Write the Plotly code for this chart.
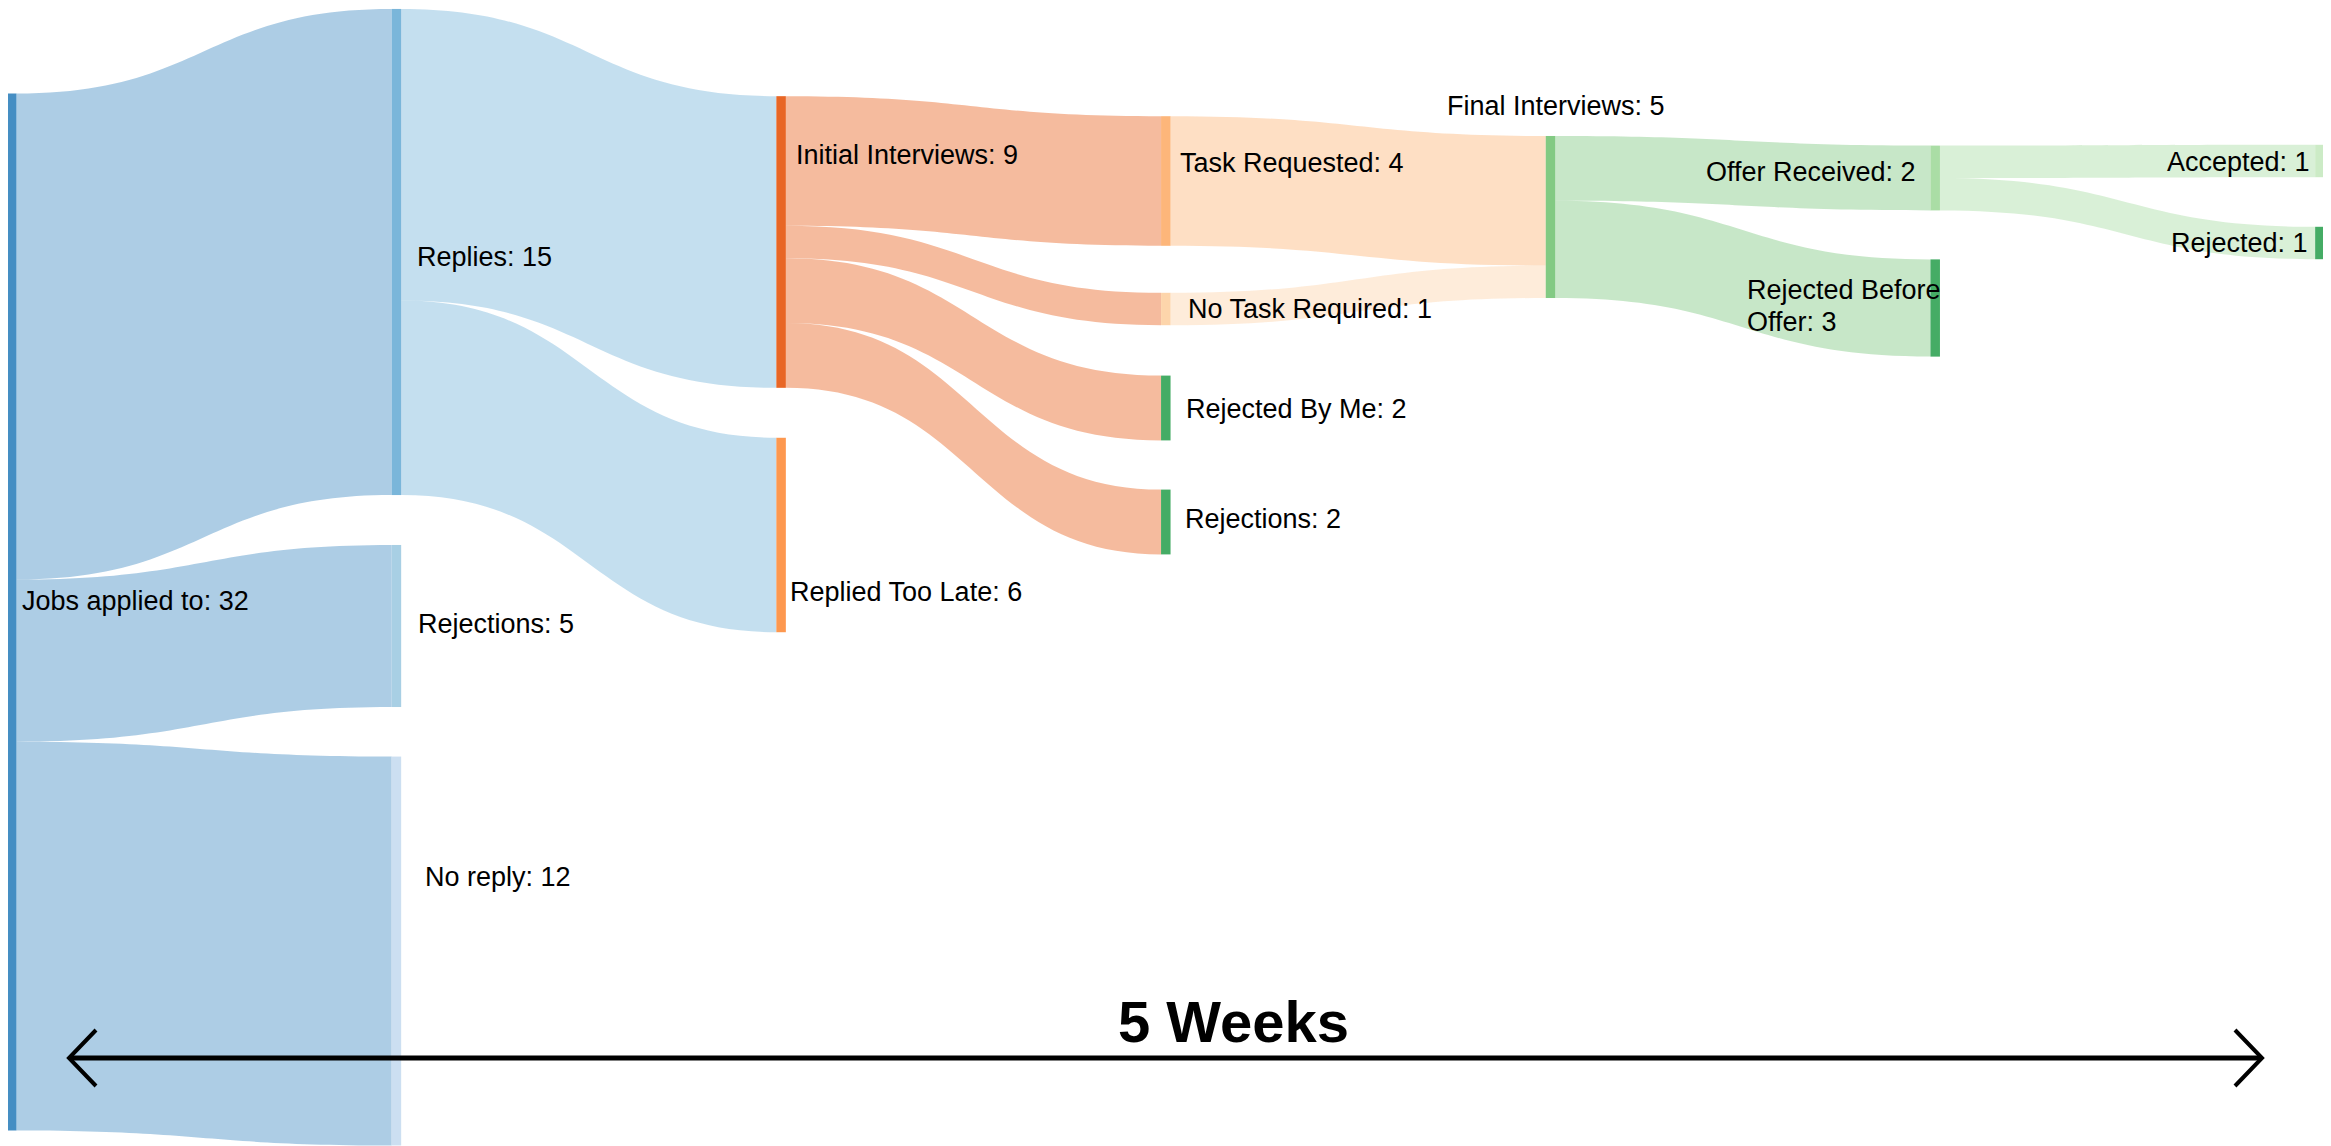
import plotly.graph_objects as go

# nodes of the job hunt funnel
labels = ["Jobs applied to: 32", "Replies: 15", "Rejections: 5", "No reply: 12",
          "Initial Interviews: 9", "Replied Too Late: 6", "Task Requested: 4",
          "No Task Required: 1", "Rejected By Me: 2", "Rejections: 2",
          "Final Interviews: 5", "Offer Received: 2", "Rejected Before<br>Offer: 3",
          "Accepted: 1", "Rejected: 1"]
node_hex = ["#3182bd", "#6baed6", "#9ecae1", "#c6dbef",
            "#e6550d", "#fd8d3c", "#fdae6b", "#fdd0a2", "#31a354", "#31a354",
            "#74c476", "#a1d99b", "#31a354", "#c7e9c0", "#31a354"]

# links
sources = [0, 0, 0, 1, 1, 4, 4, 4, 4, 6, 7, 10, 10, 11, 11]
targets = [1, 2, 3, 4, 5, 6, 7, 8, 9, 10, 10, 11, 12, 13, 14]
values = [15, 5, 12, 9, 6, 4, 1, 2, 2, 4, 1, 2, 3, 1, 1]

span_text = "5 Weeks"

# layout: column of each node and vertical centre on screen (px)
node_col = [0, 1, 1, 1, 2, 2, 3, 3, 3, 3, 4, 5, 5, 6, 6]
node_cy = [612, 252, 626, 951, 242, 535, 181, 309, 408, 522, 217, 178, 308, 161, 243]
col_x0, col_step = 11.7, 384.7

# label placement on screen: (x, y of text centre, xanchor)
label_pos = [(20, 601, "left"), (415, 257, "left"), (416, 624, "left"), (423, 877, "left"),
             (794, 155, "left"), (788, 592, "left"), (1178, 163, "left"),
             (1186, 309, "left"), (1184, 409, "left"), (1183, 519, "left"),
             (1556, 106, "center"), (1918, 172, "right"), (1745, 306, "left"),
             (2312, 162, "right"), (2310, 243, "right")]
line_gap = 32

W, H = 2331, 1146
ml, mr, mt, mb = 0, 14, 1, 9
body = 8  # default page margin around the plot div
font = "Liberation Sans, Arial"


def rgba(h, a):
    h = h.lstrip("#")
    r, g, b = int(h[0:2], 16), int(h[2:4], 16), int(h[4:6], 16)
    return f"rgba({r},{g},{b},{a})"


def px(x):
    return (x - body - ml) / (W - ml - mr)


def py(y):
    return (H - mb - (y - body)) / (H - mt - mb)


fig = go.Figure(go.Sankey(
    arrangement="freeform",
    node=dict(
        label=[""] * len(labels),
        color=[rgba(c, 0.9) for c in node_hex],
        pad=49.5,
        thickness=9.5,
        line=dict(width=0),
        align="left",
        x=[px(col_x0 + col_step * c) for c in node_col],
        y=[1 - py(y) for y in node_cy],
    ),
    link=dict(
        source=sources,
        target=targets,
        value=values,
        color=[rgba(node_hex[s], 0.4) for s in sources],
    ),
))

for text, (x, y, anchor) in zip(labels, label_pos):
    lines = text.split("<br>")
    top = y - line_gap * (len(lines) - 1) / 2
    for i, line in enumerate(lines):
        fig.add_annotation(text=line, xref="paper", yref="paper",
                           x=px(x), y=py(top + i * line_gap), xanchor=anchor, yanchor="middle",
                           showarrow=False,
                           font=dict(family=font, size=27, color="black"))

# double headed arrow under the chart
line_y = 1058
fig.add_shape(type="line", xref="paper", yref="paper",
              x0=px(69), x1=px(2262), y0=py(line_y), y1=py(line_y),
              line=dict(color="black", width=5))
for tip, arm in [(69, 96), (2262, 2235)]:
    fig.add_shape(type="path", xref="paper", yref="paper",
                  path=f"M {px(arm)} {py(line_y - 28)} L {px(tip)} {py(line_y)} L {px(arm)} {py(line_y + 28)}",
                  line=dict(color="black", width=4))

fig.add_annotation(text=f"<b>{span_text}</b>", xref="paper", yref="paper",
                   x=px(1233), y=py(1021), xanchor="center", yanchor="middle",
                   showarrow=False,
                   font=dict(family=font, size=58, color="black"))

fig.update_layout(
    width=W, height=H,
    margin=dict(l=ml, r=mr, t=mt, b=mb, pad=0),
    paper_bgcolor="white",
    plot_bgcolor="white",
)

fig.write_html("out.html")
